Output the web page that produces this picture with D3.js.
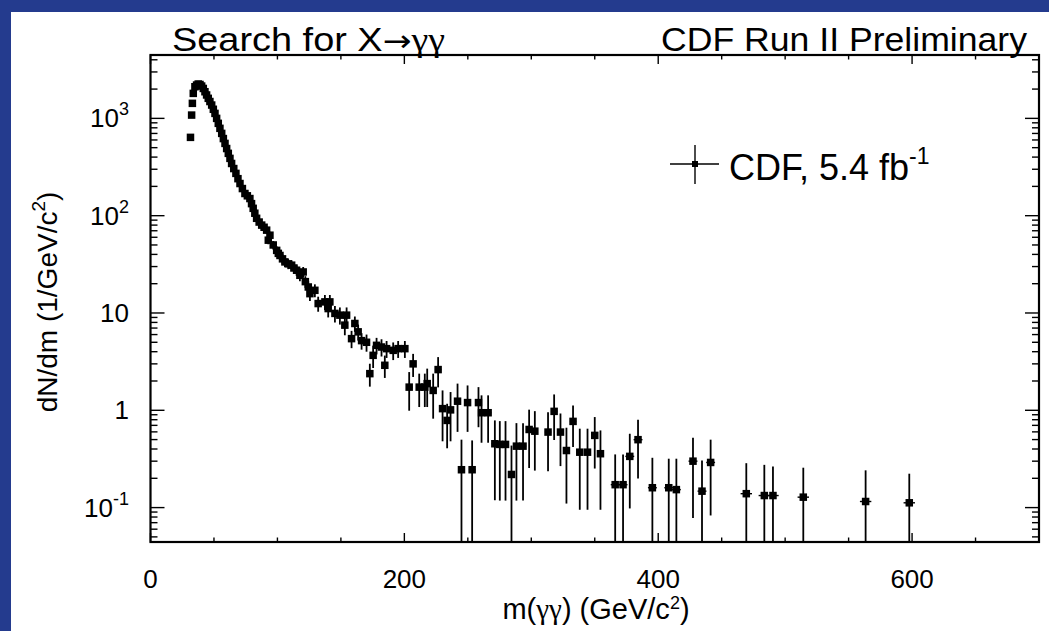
<!DOCTYPE html>
<html>
<head>
<meta charset="utf-8">
<script src="https://cdn.jsdelivr.net/npm/d3@7"></script>
<style>
  html, body { margin: 0; padding: 0; background: #fff; }
  svg { display: block; font-family: "Liberation Sans", Arial, Helvetica, sans-serif; }
  .sym { font-family: "Liberation Serif", "Times New Roman", serif; }
  .arrow { font-family: "DejaVu Sans", sans-serif; }
</style>
</head>
<body>
<svg id="chart" width="1049" height="631"></svg>
<script>
// Diphoton invariant mass spectrum, dN/dm per bin
const mass = [31.5, 32.4, 33.0, 33.7, 35.0, 36.3, 37.6, 39.0, 40.3, 41.6,
  42.9, 44.2, 45.5, 46.8, 48.2, 49.5, 50.8, 52.1, 53.4, 54.7,
  56.1, 57.4, 58.7, 60.0, 61.3, 62.6, 63.9, 65.6, 67.3, 68.9,
  70.5, 72.4, 74.4, 76.3, 78.3, 79.6, 80.9, 82.2, 83.6, 85.6,
  87.6, 89.5, 91.5, 92.8, 94.1, 96.7, 99.4, 100.7, 102.0, 104.0,
  105.9, 108.5, 111.2, 113.0, 115.1, 117.7, 120.3, 122.0, 124.3, 125.6,
  129.5, 132.1, 137.4, 140.0, 141.3, 145.3, 149.2, 154.5, 153.1, 158.4,
  161.0, 163.6, 166.3, 170.2, 172.8, 175.4, 178.1, 182.0, 184.6, 186.0,
  191.2, 195.1, 200.4, 206.9, 203.8, 211.7, 216.1, 218.0, 222.7, 226.6,
  230.1, 233.7, 236.4, 241.9, 245.0, 249.8, 253.4, 258.4, 260.8, 266.0,
  271.3, 275.2, 279.7, 284.4, 288.3, 293.5, 298.3, 302.8, 313.2, 318.0,
  323.0, 327.7, 332.9, 338.2, 344.3, 350.0, 354.5, 366.1, 372.3, 377.6,
  384.1, 395.4, 408.3, 414.3, 427.4, 434.5, 441.3, 469.4, 483.6, 490.4,
  514.3, 563.4, 597.8];

const dNdm = [638, 1081, 1427, 1807, 2114, 2200, 2254, 2230, 2149, 2030,
  1879, 1740, 1607, 1490, 1371, 1240, 1125, 1000, 889, 790,
  701, 620, 553, 490, 437, 388, 344, 305, 272, 240,
  214, 190, 169, 160, 150, 133, 119, 106, 94, 86,
  80, 76, 71, 56, 63, 50, 44, 41, 39, 36,
  33.5, 32, 31, 29, 27.5, 24.4, 26.4, 21, 18.5, 15.8,
  17.1, 12.5, 13, 11.1, 13, 9.9, 9.5, 9.5, 7.5, 5.45,
  7.8, 6.4, 5.2, 5.0, 2.38, 3.67, 4.65, 4.47, 2.9, 4.3,
  4.13, 4.3, 4.3, 3.0, 1.73, 1.73, 1.73, 1.88, 1.60, 2.62,
  1.04, 0.787, 1.01, 1.24, 0.245, 1.20, 0.245, 1.20, 0.944, 0.944,
  0.453, 0.446, 0.446, 0.219, 0.428, 0.428, 0.635, 0.61, 0.597, 0.975,
  0.597, 0.386, 0.769, 0.371, 0.371, 0.552, 0.358, 0.172, 0.172, 0.336,
  0.499, 0.16, 0.16, 0.153, 0.30, 0.1475, 0.291, 0.139, 0.133, 0.133,
  0.128, 0.1155, 0.112];

// Statistical uncertainty on dN/dm (symmetric)
const errY = [20, 25, 30, 33, 36, 37, 37, 37, 36, 35,
  34, 32, 31, 30, 29, 27, 26, 24, 23, 22,
  21, 19, 18, 17, 16, 15, 14, 13, 13, 12,
  11, 10, 10, 9.5, 9, 8.5, 8, 7.5, 7, 6.5,
  6, 6, 6, 5, 5.5, 5, 4.6, 4.5, 4.3, 4.1,
  3.9, 3.8, 3.7, 3.5, 3.4, 3.2, 3.3, 2.9, 2.7, 2.5,
  2.6, 2.2, 2.3, 2.1, 2.3, 1.9, 1.9, 1.9, 1.6, 1.1,
  1.4, 1.2, 1.0, 1.0, 0.63, 0.95, 0.9, 0.9, 0.75, 0.85,
  0.85, 0.85, 0.85, 0.8, 0.74, 0.65, 0.65, 0.80, 0.78, 0.90,
  0.56, 0.38, 0.53, 0.64, 0.254, 0.60, 0.245, 0.53, 0.48, 0.48,
  0.334, 0.328, 0.328, 0.215, 0.31, 0.31, 0.38, 0.37, 0.36, 0.48,
  0.33, 0.276, 0.35, 0.276, 0.276, 0.30, 0.263, 0.18, 0.18, 0.238,
  0.30, 0.165, 0.158, 0.165, 0.222, 0.158, 0.208, 0.147, 0.142, 0.132,
  0.129, 0.126, 0.111];

// Half bin width in GeV/c^2
const errX = [1, 1, 1, 1, 1, 1, 1, 1, 1, 1,
  1, 1, 1, 1, 1, 1, 1, 1, 1, 1,
  1, 1, 1, 1, 1, 1, 1, 1, 1, 1,
  1, 1, 1, 1, 1, 1, 1, 1, 1, 1,
  1, 1, 1, 1, 1, 1, 1, 1, 1, 1,
  1, 1, 1, 1, 1, 1, 1, 1, 1, 1,
  1, 1, 1, 1, 1, 1, 1, 1, 1, 2,
  2, 2, 2, 2, 2, 2, 2, 2, 2, 2,
  2, 2, 2, 2, 2.5, 2.5, 2.5, 2.5, 2.5, 2.5,
  2.5, 2.5, 2.5, 2.5, 2.5, 2.5, 2.5, 2.5, 2.5, 2.5,
  2.5, 2.5, 2.5, 2.5, 2.5, 2.5, 2.5, 2.5, 2.5, 2.5,
  2.5, 2.5, 2.5, 2.5, 2.5, 2.5, 2.5, 3.5, 3.5, 3.5,
  3.5, 3.5, 3.5, 3.5, 3.5, 3.5, 3.5, 4.5, 4.5, 4.5,
  4.5, 4.5, 4.5];

const xTicks = [0, 200, 400, 600];
const xMinorTicks = [50, 100, 150, 250, 300, 350, 450, 500, 550, 650];
const yTickLabels = [
  { v: 1000, base: "10", sup: "3" },
  { v: 100, base: "10", sup: "2" },
  { v: 10, base: "10", sup: "" },
  { v: 1, base: "1", sup: "" },
  { v: 0.1, base: "10", sup: "-1" }
];
const xDomain = [0, 700];
const yDomain = [0.0443, 4480];

const svg = d3.select("#chart");
const W = 1049, H = 631;
const frame = { left: 150.5, right: 1039, top: 55, bottom: 542 };

// Slide background and white canvas
svg.append("rect").attr("width", W).attr("height", H).attr("fill", "#243b8e");
svg.append("rect").attr("x", 11).attr("y", 12).attr("width", W - 11).attr("height", H - 12).attr("fill", "#ffffff");

const x = d3.scaleLinear().domain(xDomain).range([frame.left, frame.right]);
const y = d3.scaleLog().domain(yDomain).range([frame.bottom, frame.top]);

svg.append("defs").append("clipPath").attr("id", "plotClip")
  .append("rect")
  .attr("x", frame.left).attr("y", frame.top)
  .attr("width", frame.right - frame.left).attr("height", frame.bottom - frame.top);

// Ticks (ROOT style: pointing inward on all four sides)
const tickG = svg.append("g").attr("stroke", "#000").attr("stroke-width", 1.4);
const xMajorLen = 9, xMinorLen = 4.5;
xTicks.forEach(v => {
  tickG.append("line").attr("x1", x(v)).attr("x2", x(v)).attr("y1", frame.bottom).attr("y2", frame.bottom - xMajorLen);
  tickG.append("line").attr("x1", x(v)).attr("x2", x(v)).attr("y1", frame.top).attr("y2", frame.top + xMajorLen);
});
xMinorTicks.forEach(v => {
  tickG.append("line").attr("x1", x(v)).attr("x2", x(v)).attr("y1", frame.bottom).attr("y2", frame.bottom - xMinorLen);
  tickG.append("line").attr("x1", x(v)).attr("x2", x(v)).attr("y1", frame.top).attr("y2", frame.top + xMinorLen);
});

const yMajorLen = 14, yMinorLen = 7;
const yAllTicks = [];
for (let e = -2; e <= 3; e++) {
  for (let m = 1; m <= 9; m++) {
    const v = m * Math.pow(10, e);
    if (v >= yDomain[0] && v <= yDomain[1]) yAllTicks.push({ v, major: m === 1 });
  }
}
yAllTicks.forEach(t => {
  const len = t.major ? yMajorLen : yMinorLen;
  tickG.append("line").attr("x1", frame.left).attr("x2", frame.left + len).attr("y1", y(t.v)).attr("y2", y(t.v));
  tickG.append("line").attr("x1", frame.right).attr("x2", frame.right - len).attr("y1", y(t.v)).attr("y2", y(t.v));
});

// Frame
svg.append("rect")
  .attr("x", frame.left).attr("y", frame.top)
  .attr("width", frame.right - frame.left).attr("height", frame.bottom - frame.top)
  .attr("fill", "none").attr("stroke", "#000").attr("stroke-width", 2.2);

// Tick labels
const lab = svg.append("g").attr("fill", "#000").attr("font-size", 26);
xTicks.forEach(v => {
  lab.append("text").attr("x", x(v)).attr("y", 588).attr("text-anchor", "middle").text(v);
});
yTickLabels.forEach(t => {
  const tx = lab.append("text").attr("x", 129).attr("y", y(t.v) + 9).attr("text-anchor", "end");
  tx.append("tspan").text(t.base);
  if (t.sup) tx.append("tspan").attr("font-size", 18).attr("dy", -12).text(t.sup);
});

// Axis titles
const xt = svg.append("text").attr("x", 596).attr("y", 619).attr("text-anchor", "middle").attr("font-size", 29);
xt.append("tspan").text("m(");
xt.append("tspan").attr("class", "sym").text("γγ");
xt.append("tspan").text(") (GeV/c");
xt.append("tspan").attr("font-size", 18).attr("dy", -10).text("2");
xt.append("tspan").attr("dy", 10).text(")");

const yt = svg.append("text").attr("transform", "translate(57,302) rotate(-90)").attr("text-anchor", "middle").attr("font-size", 28);
yt.append("tspan").text("dN/dm (1/GeV/c");
yt.append("tspan").attr("font-size", 19).attr("dy", -12).text("2");
yt.append("tspan").attr("dy", 12).text(")");

// Header texts
const t1 = svg.append("text").attr("x", 172).attr("y", 51).attr("font-size", 33)
  .attr("textLength", 273).attr("lengthAdjust", "spacingAndGlyphs");
t1.append("tspan").text("Search for X");
t1.append("tspan").attr("class", "arrow").attr("font-size", 30).text("→");
t1.append("tspan").attr("class", "sym").text("γγ");
svg.append("text").attr("x", 1027).attr("y", 51).attr("font-size", 33).attr("text-anchor", "end")
  .attr("textLength", 366).attr("lengthAdjust", "spacingAndGlyphs").text("CDF Run II Preliminary");

// Data points with error bars
const pts = mass.map((m, i) => ({ m, v: dNdm[i], ey: errY[i], ex: errX[i] }));
const dataG = svg.append("g").attr("clip-path", "url(#plotClip)");
dataG.selectAll("line.ey").data(pts).join("line").attr("class", "ey")
  .attr("x1", d => x(d.m)).attr("x2", d => x(d.m))
  .attr("y1", d => y(d.v + d.ey))
  .attr("y2", d => (d.v - d.ey) > yDomain[0] ? y(d.v - d.ey) : frame.bottom)
  .attr("stroke", "#000").attr("stroke-width", 1.8);
dataG.selectAll("line.ex").data(pts).join("line").attr("class", "ex")
  .attr("x1", d => x(d.m - d.ex)).attr("x2", d => x(d.m + d.ex))
  .attr("y1", d => y(d.v)).attr("y2", d => y(d.v))
  .attr("stroke", "#000").attr("stroke-width", 1.4);
const ms = 7.5;
dataG.selectAll("rect.pt").data(pts).join("rect").attr("class", "pt")
  .attr("x", d => x(d.m) - ms / 2).attr("y", d => y(d.v) - ms / 2)
  .attr("width", ms).attr("height", ms).attr("fill", "#000");

// Legend
const lg = svg.append("g");
lg.append("line").attr("x1", 670).attr("x2", 719).attr("y1", 164).attr("y2", 164).attr("stroke", "#000").attr("stroke-width", 1.4);
lg.append("line").attr("x1", 695).attr("x2", 695).attr("y1", 145).attr("y2", 184).attr("stroke", "#000").attr("stroke-width", 1.4);
lg.append("rect").attr("x", 692).attr("y", 161).attr("width", 6).attr("height", 6).attr("fill", "#000");
const lt = lg.append("text").attr("x", 729).attr("y", 180).attr("font-size", 36);
lt.append("tspan").text("CDF, 5.4 fb");
lt.append("tspan").attr("font-size", 23).attr("dy", -16).text("-1");
</script>
</body>
</html>
